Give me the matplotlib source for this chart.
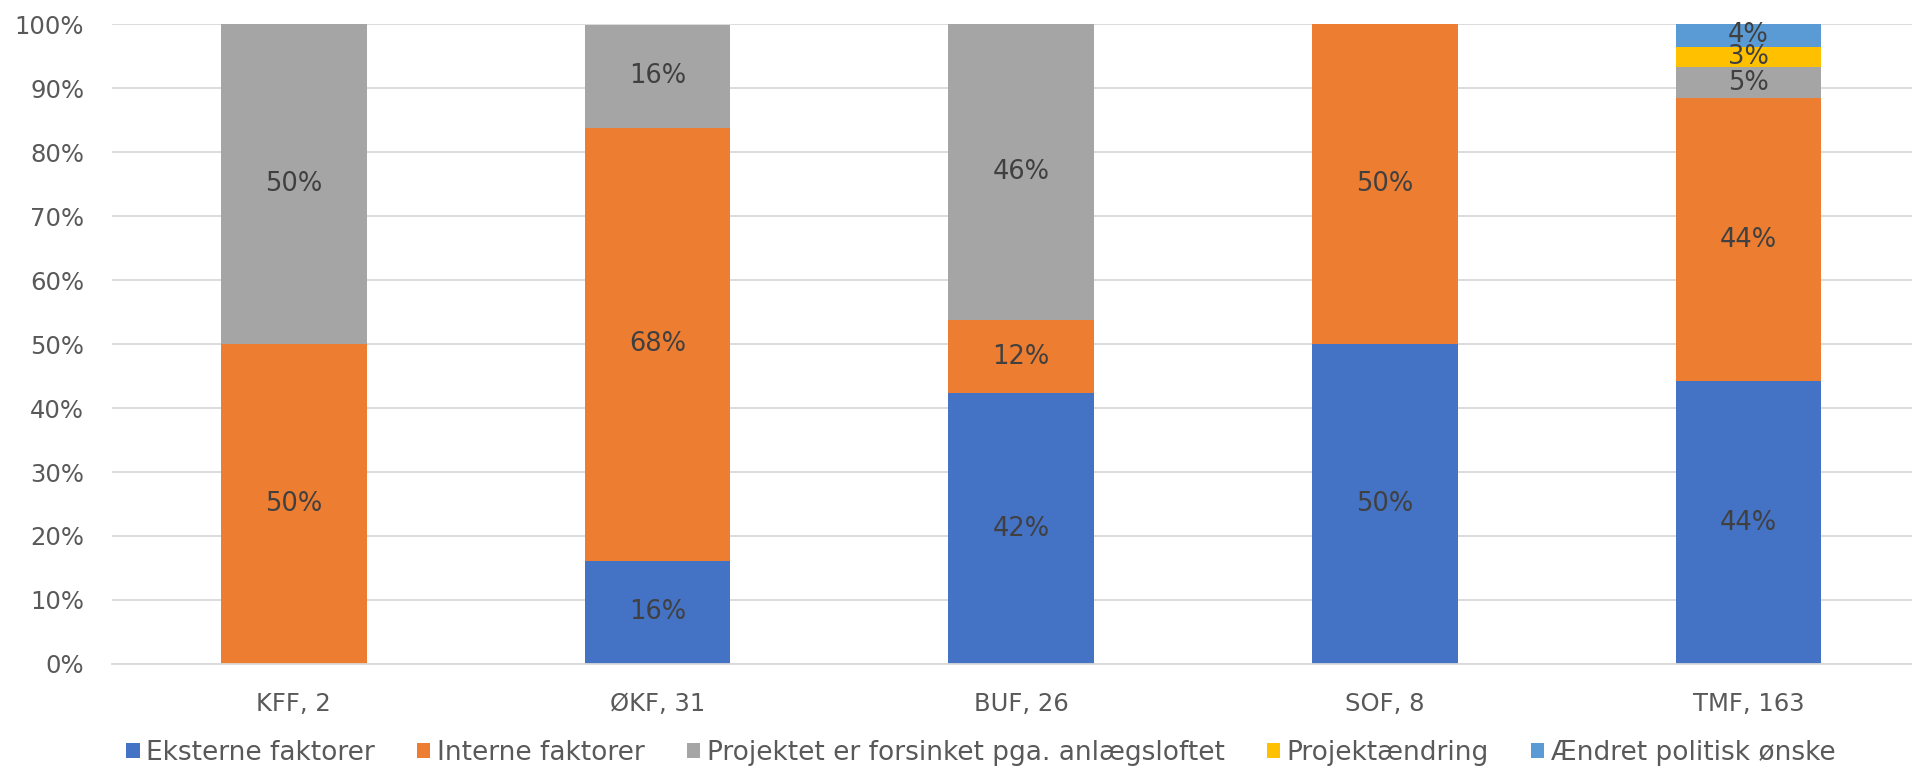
import matplotlib.pyplot as plt
import numpy as np

plt.rcParams['font.family'] = ['DejaVu Sans']

categories = ['KFF, 2', 'ØKF, 31', 'BUF, 26', 'SOF, 8', 'TMF, 163']
series_names = ['Eksterne faktorer', 'Interne faktorer',
                'Projektet er forsinket pga. anlægsloftet',
                'Projektændring', 'Ændret politisk ønske']
eksterne = [0.0, 16.1, 42.3, 50.0, 44.2]
interne = [50.0, 67.7, 11.5, 50.0, 44.2]
anlaegsloft = [50.0, 16.1, 46.2, 0.0, 4.9]
projektaendring = [0.0, 0.0, 0.0, 0.0, 3.1]
politisk = [0.0, 0.0, 0.0, 0.0, 3.7]
colors = ['#4472C4', '#ED7D31', '#A5A5A5', '#FFC000', '#5B9BD5']

fig = plt.figure(figsize=(19.12, 7.7), dpi=100)
ax = fig.add_axes([0.0586, 0.1377, 0.951, 0.831])

x = np.arange(len(categories))
bottom = np.zeros(len(categories))
for name, vals, c in zip(series_names,
                         [eksterne, interne, anlaegsloft, projektaendring, politisk],
                         colors):
    vals = np.array(vals)
    ax.bar(x, vals, 0.40, bottom=bottom, color=c, label=name, zorder=2)
    for xi, b, v in zip(x, bottom, vals):
        if v > 0:
            ax.text(xi, b + v / 2, '{:.0f}%'.format(v), ha='center', va='center',
                    fontsize=18.5, color='#404040', zorder=3)
    bottom += vals

ax.set_xlim(-0.5, 4.5)
ax.set_ylim(0, 100)
ax.set_yticks(range(0, 101, 10))
ax.set_yticklabels(['{}%'.format(v) for v in range(0, 101, 10)])
ax.set_xticks(x)
ax.set_xticklabels(categories)
ax.tick_params(axis='both', length=0, labelsize=17.5, colors='#595959')
ax.tick_params(axis='x', pad=20)
ax.tick_params(axis='y', pad=20)
ax.grid(axis='y', color='#D9D9D9', linewidth=1.3, zorder=0)
for s in ['top', 'right', 'left']:
    ax.spines[s].set_visible(False)
ax.spines['bottom'].set_color('#D9D9D9')
ax.spines['bottom'].set_linewidth(1.3)

leg = fig.legend(loc='center', bbox_to_anchor=(0.513, 0.022), ncol=5, frameon=False,
                 fontsize=19, handlelength=0.5, handleheight=0.5, handletextpad=0.25,
                 columnspacing=1.6)
for t in leg.get_texts():
    t.set_color('#595959')

fig.savefig('out.png', dpi=100)
